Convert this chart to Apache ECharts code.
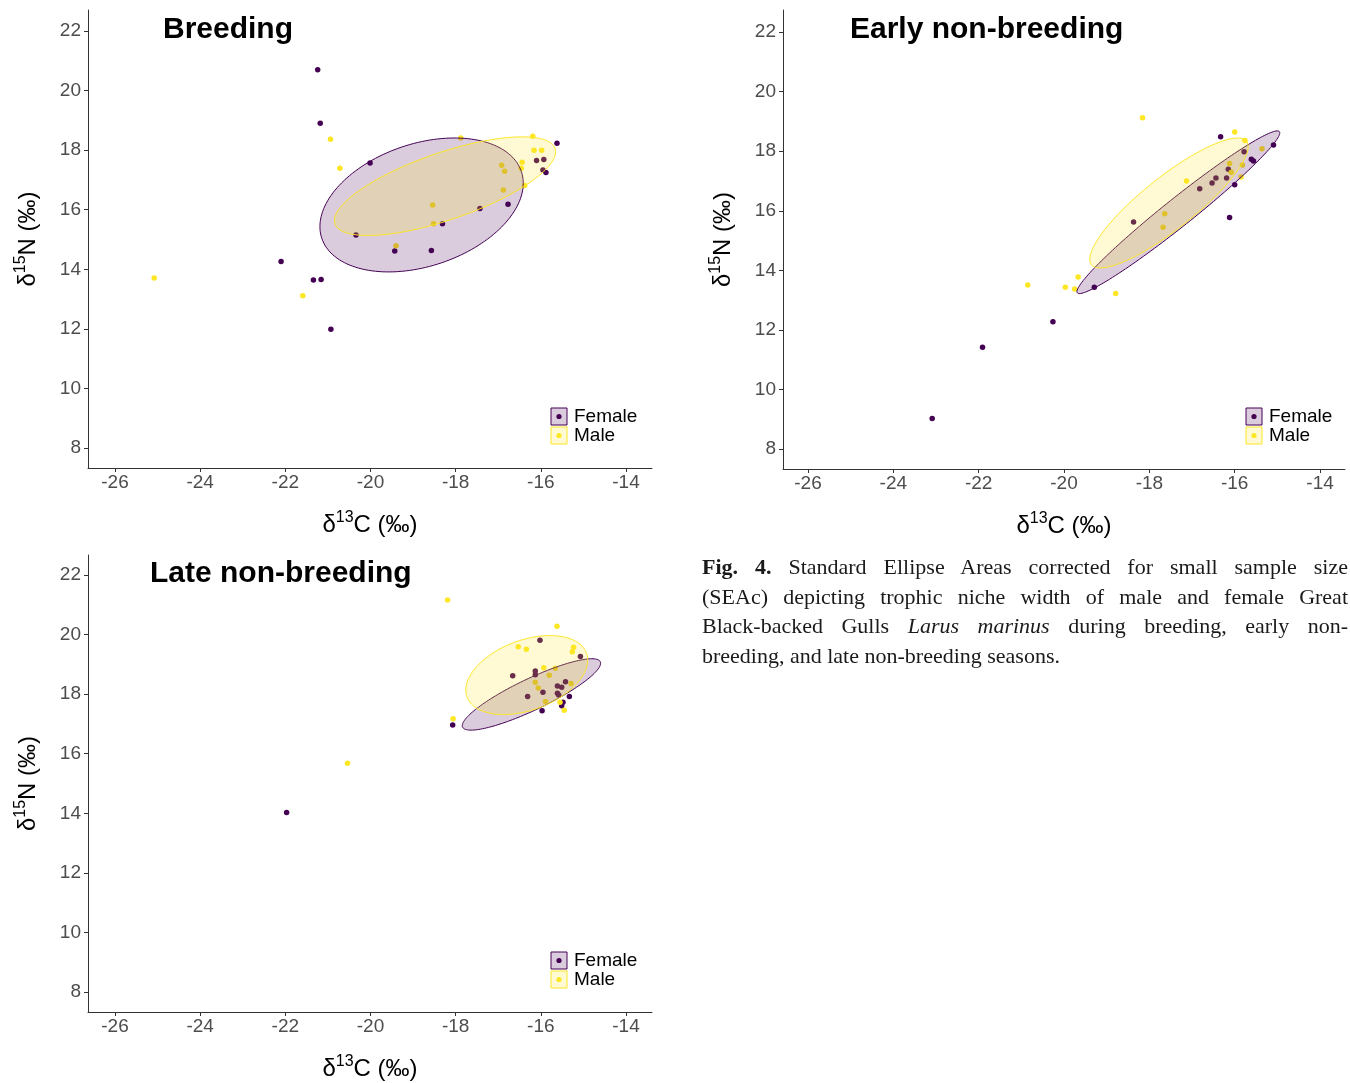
<!DOCTYPE html>
<html>
<head>
<meta charset="utf-8">
<script src="https://cdn.jsdelivr.net/npm/echarts@6/dist/echarts.min.js"></script>
<style>
html,body{margin:0;padding:0;background:#fff;}
#chart{width:1350px;height:1083px;}
#cap{position:absolute;left:702px;top:552px;width:646px;font-family:'Liberation Serif','Times New Roman',serif;font-size:22px;line-height:29.5px;color:#1a1a1a;}
#cap .j{text-align:justify;text-align-last:justify;}
</style>
</head>
<body>
<div id="chart"></div>
<div id="cap">
<div class="j"><b>Fig. 4.</b> Standard Ellipse Areas corrected for small sample size</div>
<div class="j">(SEAc) depicting trophic niche width of male and female Great</div>
<div class="j">Black-backed Gulls <i>Larus marinus</i> during breeding, early non-</div>
<div>breeding, and late non-breeding seasons.</div>
</div>
<script>
// ---- tick labels ----
const ticksX = [-26, -24, -22, -20, -18, -16, -14];
const ticksY = [8, 10, 12, 14, 16, 18, 20, 22];
const panelTitles = ['Breeding', 'Early non-breeding', 'Late non-breeding'];
const groups = ['Female', 'Male'];

// ---- Breeding: [δ13C, δ15N] ----
const breedingFemale = [[-21.24,20.70],[-21.18,18.90],[-20.01,17.57],[-15.62,18.23],[-16.10,17.65],[-15.93,17.69],[-15.95,17.33],[-15.88,17.25],[-16.77,16.18],[-17.43,16.04],[-18.31,15.53],[-20.34,15.15],[-19.43,14.61],[-18.57,14.63],[-22.10,14.26],[-21.34,13.64],[-21.16,13.66],[-20.93,11.99]];
const breedingMale = [[-25.08,13.71],[-20.94,18.37],[-20.72,17.39],[-17.88,18.41],[-16.19,18.47],[-16.16,18.00],[-15.98,18.00],[-16.44,17.59],[-16.46,17.39],[-16.92,17.49],[-16.85,17.29],[-16.88,16.66],[-16.38,16.81],[-18.54,16.16],[-18.52,15.53],[-19.40,14.79],[-21.59,13.11]];
// ellipse: [centre x, centre y, var x, var y, cov xy]
const breedingFemaleEllipse = [-18.80, 16.16, 5.70, 5.054, 1.738];
const breedingMaleEllipse = [-18.25, 16.79, 6.75, 2.742, 3.0];

// ---- Early non-breeding ----
const earlyFemale = [[-16.33,18.48],[-15.09,18.21],[-15.61,17.73],[-15.56,17.67],[-15.78,17.98],[-16.15,17.39],[-16.19,17.10],[-16.44,17.10],[-16.53,16.93],[-16.82,16.74],[-16.00,16.87],[-16.12,15.77],[-18.37,15.62],[-19.29,13.43],[-20.26,12.27],[-21.91,11.42],[-23.09,9.03]];
const earlyMale = [[-18.16,19.12],[-16.00,18.64],[-15.76,18.36],[-15.36,18.08],[-16.12,17.59],[-15.82,17.54],[-16.08,17.29],[-15.85,17.13],[-17.13,17.00],[-17.64,15.90],[-17.68,15.45],[-19.67,13.78],[-19.97,13.43],[-19.75,13.37],[-18.79,13.22],[-20.85,13.51]];
const earlyFemaleEllipse = [-17.32, 15.95, 5.647, 7.457, 6.331];
const earlyMaleEllipse = [-17.54, 16.26, 3.449, 4.761, 3.51];

// ---- Late non-breeding ----
const lateFemale = [[-16.02,19.81],[-15.07,19.26],[-16.66,18.62],[-16.13,18.78],[-16.13,18.65],[-15.42,18.42],[-15.61,18.27],[-15.51,18.23],[-15.95,18.06],[-15.61,18.03],[-15.58,17.97],[-16.31,17.92],[-15.33,17.92],[-15.48,17.73],[-15.51,17.61],[-15.97,17.44],[-18.07,16.96],[-21.97,14.03]];
const lateMale = [[-18.19,21.16],[-15.62,20.28],[-16.53,19.59],[-16.34,19.51],[-15.23,19.57],[-15.26,19.42],[-15.93,18.89],[-15.66,18.87],[-15.80,18.63],[-16.13,18.40],[-16.06,18.21],[-15.29,18.36],[-15.89,17.75],[-15.55,17.73],[-15.45,17.46],[-18.06,17.17],[-20.54,15.68]];
const lateFemaleEllipse = [-16.22, 17.99, 2.638, 1.436, 1.701];
const lateMaleEllipse = [-16.33, 18.64, 2.05, 1.758, 0.721];

const FEMALE = '#440154', MALE = '#FDE725';
const FEMALE_FILL = 'rgba(68,1,84,0.2)', MALE_FILL = 'rgba(253,231,37,0.2)';

const panels = [
  {grid:{left:88, top:10, width:564, height:458}, x:[-26.634,-13.389], y:[7.329,22.705],
   f:breedingFemale, m:breedingMale, fe:breedingFemaleEllipse, me:breedingMaleEllipse,
   title:{left:163, top:15}, legend:{x:551, y:408}},
  {grid:{left:783, top:10, width:562, height:459}, x:[-26.586,-13.415], y:[7.331,22.739],
   f:earlyFemale, m:earlyMale, fe:earlyFemaleEllipse, me:earlyMaleEllipse,
   title:{left:850, top:15}, legend:{x:1246, y:408}},
  {grid:{left:88, top:555, width:564, height:457}, x:[-26.634,-13.389], y:[7.329,22.671],
   f:lateFemale, m:lateMale, fe:lateFemaleEllipse, me:lateMaleEllipse,
   title:{left:150, top:559}, legend:{x:551, y:952}}
];

function ellipseRender(e, fill, stroke) {
  return function (params, api) {
    const L11 = Math.sqrt(e[2]);
    const L21 = e[4] / L11;
    const L22 = Math.sqrt(e[3] - L21 * L21);
    const pts = [];
    const n = 160;
    for (let i = 0; i < n; i++) {
      const t = 2 * Math.PI * i / n;
      pts.push(api.coord([e[0] + L11 * Math.cos(t), e[1] + L21 * Math.cos(t) + L22 * Math.sin(t)]));
    }
    return {type:'polygon', shape:{points:pts}, style:{fill:fill, stroke:stroke, lineWidth:1}};
  };
}

const axisLineStyle = {color:'#333', width:1};
const nameRich = {
  d:{fontSize:24, color:'#000', fontFamily:'Liberation Sans', lineHeight:30},
  s:{fontSize:16, color:'#000', fontFamily:'Liberation Sans', verticalAlign:'top', lineHeight:30, padding:[0,0,8,0]}
};

const option = {
  backgroundColor:'#fff',
  animation:false,
  title:[], grid:[], xAxis:[], yAxis:[], series:[], graphic:[]
};

panels.forEach((p, i) => {
  option.grid.push(Object.assign({}, p.grid));
  option.title.push({text:panelTitles[i], left:p.title.left, top:p.title.top, padding:0,
    textStyle:{fontSize:30, fontWeight:'bold', color:'#000', fontFamily:'Liberation Sans'}});
  option.xAxis.push({type:'value', gridIndex:i, min:p.x[0], max:p.x[1],
    name:'{d|δ}{s|13}{d|C (‰)}', nameLocation:'middle', nameGap:42,
    nameTextStyle:{rich:nameRich},
    axisLine:{show:true, onZero:false, lineStyle:axisLineStyle},
    axisTick:{show:true, length:4, lineStyle:axisLineStyle, customValues:ticksX},
    axisLabel:{show:true, customValues:ticksX, color:'#4D4D4D', fontSize:19, margin:5, fontFamily:'Liberation Sans'},
    splitLine:{show:false}});
  option.yAxis.push({type:'value', gridIndex:i, min:p.y[0], max:p.y[1],
    name:'{d|δ}{s|15}{d|N (‰)}', nameLocation:'middle', nameGap:45,
    nameTextStyle:{rich:nameRich},
    axisLine:{show:true, onZero:false, lineStyle:axisLineStyle},
    axisTick:{show:true, length:4, lineStyle:axisLineStyle, customValues:ticksY},
    axisLabel:{show:true, customValues:ticksY, color:'#4D4D4D', fontSize:19, margin:7, fontFamily:'Liberation Sans'},
    splitLine:{show:false}});
  option.series.push(
    {type:'scatter', name:groups[0], xAxisIndex:i, yAxisIndex:i, data:p.f, symbolSize:5.5,
     itemStyle:{color:FEMALE, opacity:1}, z:2},
    {type:'scatter', name:groups[1], xAxisIndex:i, yAxisIndex:i, data:p.m, symbolSize:5.5,
     itemStyle:{color:MALE, opacity:1}, z:2},
    {type:'custom', name:groups[0] + ' SEAc', xAxisIndex:i, yAxisIndex:i, data:[[p.fe[0], p.fe[1]]],
     renderItem:ellipseRender(p.fe, FEMALE_FILL, FEMALE), z:3, silent:true},
    {type:'custom', name:groups[1] + ' SEAc', xAxisIndex:i, yAxisIndex:i, data:[[p.me[0], p.me[1]]],
     renderItem:ellipseRender(p.me, MALE_FILL, MALE), z:4, silent:true}
  );
  const lx = p.legend.x, ly = p.legend.y;
  option.graphic.push(
    {type:'rect', shape:{x:lx, y:ly, width:16, height:17}, style:{fill:FEMALE_FILL, stroke:FEMALE, lineWidth:1}},
    {type:'circle', shape:{cx:lx + 8, cy:ly + 8.5, r:2.6}, style:{fill:FEMALE}},
    {type:'rect', shape:{x:lx, y:ly + 19, width:16, height:17}, style:{fill:MALE_FILL, stroke:MALE, lineWidth:1}},
    {type:'circle', shape:{cx:lx + 8, cy:ly + 27.5, r:2.6}, style:{fill:MALE}},
    {type:'text', x:lx + 23, y:ly + 9, style:{text:groups[0], fontSize:19, fill:'#000', fontFamily:'Liberation Sans', verticalAlign:'middle'}},
    {type:'text', x:lx + 23, y:ly + 28, style:{text:groups[1], fontSize:19, fill:'#000', fontFamily:'Liberation Sans', verticalAlign:'middle'}}
  );
});

const chart = echarts.init(document.getElementById('chart'), null, {renderer:'canvas'});
chart.setOption(option);
</script>
</body>
</html>
